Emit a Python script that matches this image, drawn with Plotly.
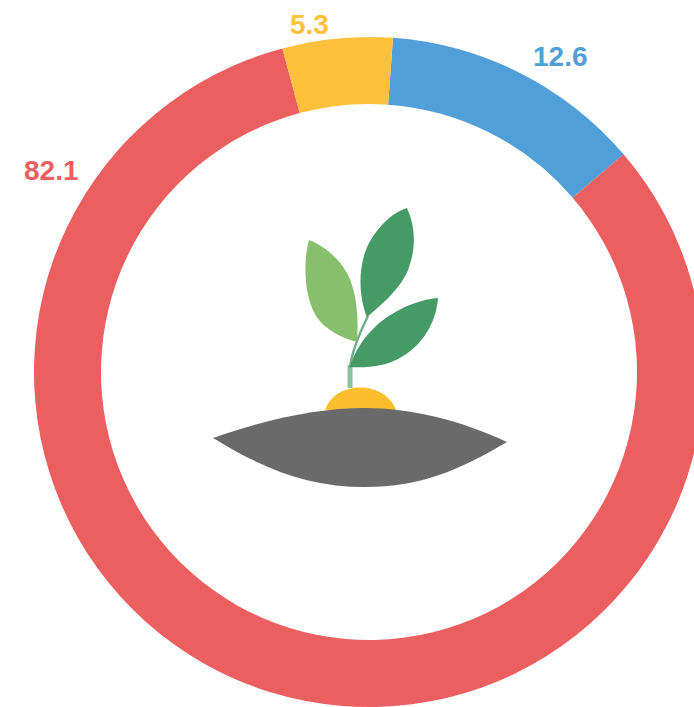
import plotly.graph_objects as go

categories = ["Blue", "Red", "Yellow"]
values = [12.6, 82.1, 5.3]
colors = ["#519fd8", "#ec5f61", "#ffc13c"]

W, H = 738, 744
CX, CY, R = 369, 372, 335
RI = 268


def fx(x):
    return x / W


def fy(y):
    return 1 - y / H


def path(cmds):
    out = []
    for c in cmds:
        if c[0] == "Z":
            out.append("Z")
        else:
            pts = c[1:]
            s = " ".join(f"{fx(pts[i]):.5f},{fy(pts[i + 1]):.5f}" for i in range(0, len(pts), 2))
            out.append(f"{c[0]} {s}")
    return " ".join(out)


def fill_shape(cmds, color):
    return dict(type="path", xref="paper", yref="paper", path=path(cmds),
                fillcolor=color, line=dict(width=0), layer="above")


def stroke_shape(cmds, color, width):
    return dict(type="path", xref="paper", yref="paper", path=path(cmds),
                line=dict(color=color, width=width), layer="above")


fig = go.Figure(go.Pie(
    labels=categories, values=values, sort=False, direction="clockwise",
    rotation=4.1, hole=RI / R, textinfo="none", hoverinfo="label+value",
    marker=dict(colors=colors, line=dict(width=0)), showlegend=False,
    domain=dict(x=[(CX - R) / W, (CX + R) / W], y=[1 - (CY + R) / H, 1 - (CY - R) / H]),
))

shapes = [
    stroke_shape([("M", 350, 388), ("L", 350, 365)], "#8cc3a3", 5),
    stroke_shape([("M", 350, 368), ("C", 352, 350, 360, 332, 368, 316)], "#6fae8a", 2.5),
    fill_shape([("M", 309, 240), ("C", 303, 262, 304, 296, 316, 316), ("C", 325, 330, 342, 338, 357, 342),
                ("C", 359, 315, 356, 290, 347, 273), ("C", 340, 260, 325, 246, 309, 240), ("Z",)], "#88bf6c"),
    fill_shape([("M", 407, 208), ("C", 392, 212, 374, 230, 366, 250), ("C", 358, 270, 359, 298, 367, 317),
                ("C", 385, 302, 405, 284, 410, 264), ("C", 416, 245, 415, 225, 407, 208), ("Z",)], "#459a66"),
    fill_shape([("M", 438, 298), ("C", 415, 300, 392, 312, 377, 325), ("C", 364, 337, 354, 352, 350, 367),
                ("C", 368, 368, 385, 366, 398, 359), ("C", 420, 348, 436, 325, 438, 298), ("Z",)], "#459a66"),
    fill_shape([("M", 325, 410), ("C", 335, 380, 385, 380, 396, 410), ("Z",)], "#fdbe2d"),
    fill_shape([("M", 213, 438), ("C", 270, 418, 320, 408, 365, 408), ("C", 410, 408, 460, 420, 507, 442),
                ("C", 460, 470, 420, 487, 365, 487), ("C", 310, 487, 265, 470, 213, 438), ("Z",)], "#6a6a6a"),
]

label_positions = [(560, 56), (52, 170), (309, 25)]
annotations = [
    dict(x=fx(px), y=fy(py), xref="paper", yref="paper", text=f"<b>{v}</b>", showarrow=False,
         xanchor="center", yanchor="middle",
         font=dict(family="Liberation Sans, Arial, sans-serif", size=28, color=c))
    for v, c, (px, py) in zip(values, colors, label_positions)
]

fig.update_layout(
    width=W, height=H, autosize=False, margin=dict(l=0, r=0, t=0, b=0),
    paper_bgcolor="white", plot_bgcolor="white",
    shapes=shapes, annotations=annotations,
)

fig.write_html(
    "out.html",
    config=dict(displayModeBar=False),
    post_script="document.documentElement.style.overflow='hidden';"
                "document.body.style.overflow='hidden';document.body.style.margin='0';",
)
